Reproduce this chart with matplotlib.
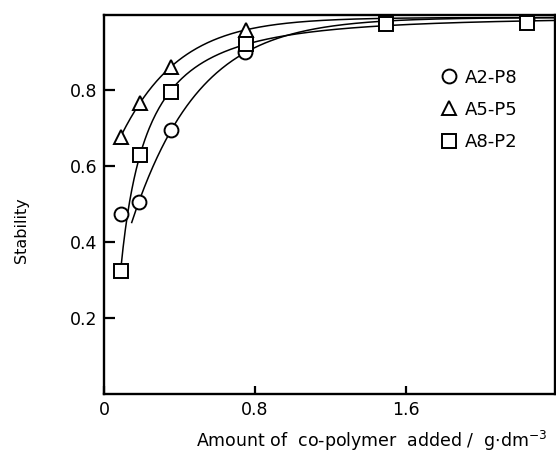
import numpy as np
import matplotlib
matplotlib.use("Agg")
import matplotlib.pyplot as plt

plt.rcParams['font.family'] = ['DejaVu Sans']
plt.rcParams['mathtext.fontset'] = 'dejavusans'

# Data
x_a2p8 = [0.088, 0.185, 0.355, 0.75, 2.24]
y_a2p8 = [0.474, 0.505, 0.693, 0.900, 0.987]

x_a5p5 = [0.088, 0.19, 0.355, 0.755]
y_a5p5 = [0.676, 0.766, 0.860, 0.958]

x_a8p2 = [0.088, 0.19, 0.355, 0.755, 1.497, 2.24]
y_a8p2 = [0.323, 0.628, 0.794, 0.920, 0.972, 0.976]

labels = ["A2-P8", "A5-P5", "A8-P2"]
x_ticks = [0, 0.8, 1.6]
x_ticklabels = ["0", "0.8", "1.6"]
y_ticks = [0.2, 0.4, 0.6, 0.8]
y_ticklabels = ["0.2", "0.4", "0.6", "0.8"]

PLATEAU = 0.99


def fit_curve(x, y, a=PLATEAU):
    """Least-squares fit of y = a - b*exp(-k*x**p), a fixed (grid over k, p)."""
    x = np.asarray(x, float)
    y = np.asarray(y, float)
    best = None
    for p in np.linspace(0.3, 1.8, 61):
        for k in np.logspace(-1, 1.7, 200):
            e = np.exp(-k * x ** p)
            b = np.sum(e * (a - y)) / np.sum(e * e)
            r = np.sum((a - b * e - y) ** 2)
            if best is None or r < best[0]:
                best = (r, b, k, p)
    _, b, k, p = best
    return lambda t: a - b * np.exp(-k * np.asarray(t) ** p)


fig = plt.figure(figsize=(5.56, 4.61), dpi=100)
ax = fig.add_axes([0.187, 0.145, 0.811, 0.822])
xmax = 2.39
ax.set_xlim(0, xmax)
ax.set_ylim(0, 0.996)

# (x, y, marker, size, curve start, points used for the fitted curve)
series = [
    (x_a2p8, y_a2p8, 'o', 10.0, 0.147, slice(1, None)),
    (x_a5p5, y_a5p5, '^', 10.5, 0.095, slice(None)),
    (x_a8p2, y_a8p2, 's', 10.0, 0.090, slice(None)),
]

handles = []
for (xs, ys, m, ms, x0, sl), lab in zip(series, labels):
    f = fit_curve(np.asarray(xs)[sl], np.asarray(ys)[sl])
    t = np.linspace(x0, xmax, 400)
    ax.plot(t, f(t), color='black', lw=1.1, zorder=2)
    h, = ax.plot(xs, ys, linestyle='none', marker=m, ms=ms, mfc='white',
                 mec='black', mew=1.4, zorder=3, label=lab)
    handles.append(h)

for s in ax.spines.values():
    s.set_linewidth(1.7)

ax.set_xticks(x_ticks)
ax.set_xticklabels(x_ticklabels)
ax.set_yticks(y_ticks)
ax.set_yticklabels(y_ticklabels)
ax.tick_params(axis='y', direction='in', length=8, width=1.6, labelsize=12.5, pad=5)
ax.tick_params(axis='x', direction='in', length=6, width=1.6, labelsize=12.5, pad=5)

fig.text(22 / 556, 1 - 230 / 461, "Stability", rotation=90, fontsize=11.5,
         ha='center', va='center')
fig.text(372 / 556, 1 - 441 / 461,
         r"Amount of  co-polymer  added /  g$\cdot$dm$^{-3}$",
         fontsize=12.5, ha='center', va='center')

leg = ax.legend(handles=handles, loc='upper left', bbox_to_anchor=(0.733, 0.878),
                frameon=False, fontsize=13, handlelength=0.8,
                handletextpad=0.5, labelspacing=0.78, borderaxespad=0)

fig.savefig("out.png", dpi=100)
